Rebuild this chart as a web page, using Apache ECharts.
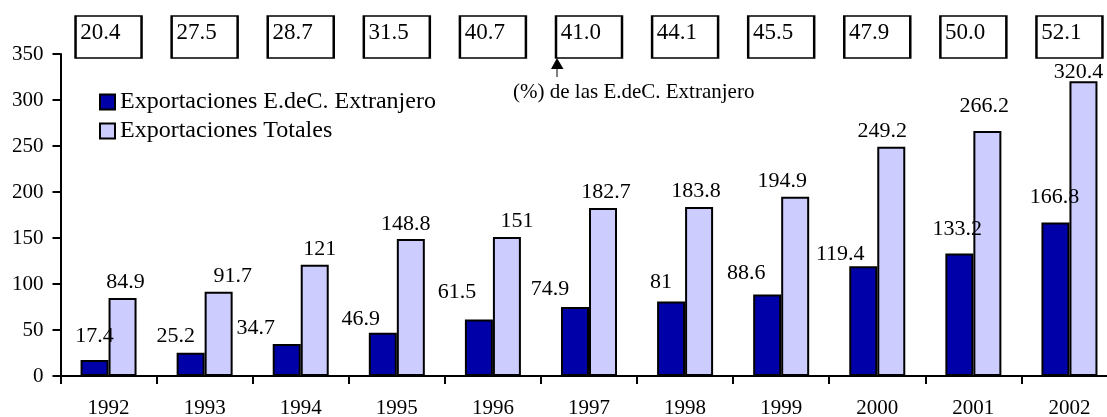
<!DOCTYPE html>
<html lang="es" style="height: 100%">
<head>
  <meta charset="utf-8">
</head>
<body style="height: 100%; margin: 0; background: #fff">
  <div id="container" style="width: 1107px; height: 417px"></div>

  <script type="text/javascript" src="https://fastly.jsdelivr.net/npm/echarts@6/dist/echarts.min.js"></script>
  <script type="text/javascript">
    var years = ['1992', '1993', '1994', '1995', '1996', '1997', '1998', '1999', '2000', '2001', '2002'];
    var foreignExports = [17.4, 25.2, 34.7, 46.9, 61.5, 74.9, 81, 88.6, 119.4, 133.2, 166.8];
    var totalExports = [84.9, 91.7, 121, 148.8, 151, 182.7, 183.8, 194.9, 249.2, 266.2, 320.4];
    var foreignShare = [20.4, 27.5, 28.7, 31.5, 40.7, 41.0, 44.1, 45.5, 47.9, 50.0, 52.1];
    var yTicks = [0, 350, 50];

    // labels were moved by hand in the original, nudge them the same way
    var foreignNudge = [[0, -8], [-15, -1], [-31, 0], [-22, 2], [-22, -11], [-25, -2], [-10, -3], [-21, -5], [-23, 4], [-2, -8], [-1, -9]];
    var totalNudge = [[3, 0], [14, 1], [5, 1], [-5, 1], [10, 0], [3, 0], [-3, 0], [-13, 1], [-9, 0], [-3, -9], [-5, 7]];

    var FONT = '"Liberation Serif", "Times New Roman", serif';

    var dom = document.getElementById('container');
    var myChart = echarts.init(dom, null, { renderer: 'canvas' });

    function withNudge(values, nudge) {
      return values.map(function (v, i) {
        return { value: v, label: { offset: nudge[i] } };
      });
    }

    var option = {
      animation: false,
      backgroundColor: '#fff',
      textStyle: { fontFamily: FONT, color: '#000' },
      legend: {
        data: ['Exportaciones E.deC. Extranjero', 'Exportaciones Totales'],
        orient: 'vertical',
        left: 94,
        top: 85,
        itemWidth: 15,
        itemHeight: 15,
        itemGap: 5,
        icon: 'rect',
        textStyle: { fontFamily: FONT, fontSize: 24, color: '#000', lineHeight: 24 }
      },
      grid: [
        { left: 60.5, top: 54, width: 1057, height: 322, outerBoundsMode: 'none' },
        { left: 60.5, top: 16, width: 1057, height: 42, outerBoundsMode: 'none' }
      ],
      xAxis: [
        {
          type: 'category',
          data: years,
          gridIndex: 0,
          axisLine: { lineStyle: { color: '#000', width: 2 } },
          axisTick: { show: true, length: 8, lineStyle: { color: '#000', width: 2 } },
          axisLabel: { color: '#000', fontFamily: FONT, fontSize: 21, margin: 22 }
        },
        {
          type: 'category',
          data: years,
          gridIndex: 1,
          show: false
        }
      ],
      yAxis: [
        {
          type: 'value',
          gridIndex: 0,
          min: yTicks[0],
          max: yTicks[1],
          interval: yTicks[2],
          splitLine: { show: false },
          axisLine: { show: true, lineStyle: { color: '#000', width: 2 } },
          axisTick: { show: true, length: 8, lineStyle: { color: '#000', width: 2 } },
          axisLabel: { color: '#000', fontFamily: FONT, fontSize: 21, margin: 17 }
        },
        {
          type: 'value',
          gridIndex: 1,
          min: 0,
          max: 1,
          show: false
        }
      ],
      series: [
        {
          name: 'Exportaciones E.deC. Extranjero',
          type: 'bar',
          barWidth: 28,
          barGap: '0%',
          data: withNudge(foreignExports, foreignNudge),
          itemStyle: { color: '#0000A8', borderColor: '#000', borderWidth: 2 },
          label: { show: true, position: 'top', distance: 5, color: '#000', fontFamily: FONT, fontSize: 22 }
        },
        {
          name: 'Exportaciones Totales',
          type: 'bar',
          barWidth: 28,
          barGap: '0%',
          data: withNudge(totalExports, totalNudge),
          itemStyle: { color: '#CCCCFF', borderColor: '#000', borderWidth: 2 },
          label: { show: true, position: 'top', distance: 5, color: '#000', fontFamily: FONT, fontSize: 22 }
        },
        {
          name: 'share',
          type: 'scatter',
          xAxisIndex: 1,
          yAxisIndex: 1,
          symbol: 'rect',
          symbolSize: [66, 42],
          silent: true,
          data: foreignShare.map(function (v, i) {
            return { value: [years[i], 0.5], share: v };
          }),
          itemStyle: { color: '#fff', borderColor: '#000', borderWidth: 2, opacity: 1 },
          label: {
            show: true,
            position: 'insideTopLeft',
            distance: 6,
            color: '#000',
            fontFamily: FONT,
            fontSize: 23,
            formatter: function (p) { return p.data.share.toFixed(1); }
          }
        }
      ],
      graphic: [
        {
          type: 'line',
          shape: { x1: 557, y1: 62, x2: 557, y2: 77 },
          style: { stroke: '#000', lineWidth: 1 }
        },
        {
          type: 'polygon',
          shape: { points: [[551, 69], [557, 58], [563.5, 69]] },
          style: { fill: '#000' }
        },
        {
          type: 'text',
          left: 513,
          top: 82,
          style: { text: '(%) de las E.deC. Extranjero', font: '21px ' + FONT, fill: '#000' }
        }
      ]
    };

    myChart.setOption(option);
    window.addEventListener('resize', myChart.resize);
  </script>
</body>
</html>
